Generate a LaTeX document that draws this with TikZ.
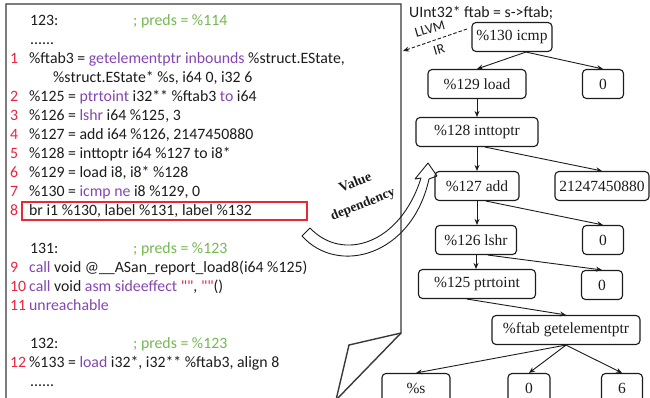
\documentclass[tikz,border=0pt]{standalone}
\usepackage{fontspec}
\setmainfont{Liberation Serif}
\newfontfamily\codefont{Carlito}
\usetikzlibrary{arrows.meta,calc}
\definecolor{ink}{RGB}{28,28,28}
\definecolor{kwpurple}{RGB}{132,70,176}
\definecolor{cmtgreen}{RGB}{116,184,82}
\definecolor{numred}{RGB}{232,36,64}
\definecolor{boxred}{RGB}{232,40,52}
\newcommand\kw[1]{\textcolor{kwpurple}{#1}}
\newcommand\cmnt[1]{\textcolor{cmtgreen}{#1}}
\newcommand\qred[1]{\textcolor{numred}{#1}}

\begin{document}
\begin{tikzpicture}[x=1pt,y=-1pt,
  code/.style={anchor=base west, inner sep=0pt, font=\codefont\fontsize{15.8}{19}\selectfont, text=ink},
  lno/.style={code, text=numred},
  tnode/.style={draw=ink, rounded corners=4pt, line width=1.1pt, inner sep=0pt,
    font=\fontsize{15.5}{18}\selectfont, text=ink, minimum height=29pt},
  edge/.style={draw=ink, line width=0.9pt, -{Stealth[length=6pt,width=5pt]}},
  frame/.style={draw=black!78, line width=1.4pt},
]
\useasboundingbox (0,0) rectangle (650,397);

% ---------- IR listing ----------
\node[code] (hdA) at (30,25) {123:};
\node[code] (hdAc) at (133,25) {\cmnt{; preds = \%114}};
\node[code] (dotsA) at (30,44) {......};
\node[lno] (n1) at (10,63) {1};
\node[code] (c1) at (29,63) {\%ftab3 = \kw{getelementptr inbounds} \%struct.EState,};
\node[code] (c1b) at (53,82) {\%struct.EState* \%s, i64 0, i32 6};
\node[lno] (n2) at (10,101) {2};
\node[code] (c2) at (29,101) {\%125 = \kw{ptrtoint} i32** \%ftab3 \kw{to} i64};
\node[lno] (n3) at (10,120) {3};
\node[code] (c3) at (29,120) {\%126 = \kw{lshr} i64 \%125, 3};
\node[lno] (n4) at (10,139) {4};
\node[code] (c4) at (29,139) {\%127 = add i64 \%126, 2147450880};
\node[lno] (n5) at (10,158) {5};
\node[code] (c5) at (29,158) {\%128 = inttoptr i64 \%127 to i8*};
\node[lno] (n6) at (10,177) {6};
\node[code] (c6) at (29,177) {\%129 = load i8, i8* \%128};
\node[lno] (n7) at (10,196) {7};
\node[code] (c7) at (29,196) {\%130 = \kw{icmp ne} i8 \%129, 0};
\node[lno] (n8) at (10,215) {8};
\node[code] (c8) at (29,215) {br i1 \%130, label \%131, label \%132};
\draw[draw=boxred, line width=1.2pt] (22,202) rectangle (307,220);

\node[code] (hdB) at (30,253) {131:};
\node[code] (hdBc) at (133,253) {\cmnt{; preds = \%123}};
\node[lno] (n9) at (10,272) {9};
\node[code] (c9) at (29,272) {\kw{call} void @\_\_ASan\_report\_load8(i64 \%125)};
\node[lno] (n10) at (10,291) {10};
\node[code] (c10) at (29,291) {\kw{call} void \kw{asm sideeffect} \qred{""}, \qred{""}()};
\node[lno] (n11) at (10,310) {11};
\node[code] (c11) at (29,310) {\kw{unreachable}};

\node[code] (hdC) at (30,348) {132:};
\node[code] (hdCc) at (133,348) {\cmnt{; preds = \%123}};
\node[lno] (n12) at (10,367) {12};
\node[code] (c12) at (29,367) {\%133 = \kw{load} i32*, i32** \%ftab3, align 8};
\node[code] (dotsC) at (30,386) {......};

% ---------- callout frame ----------
\draw[frame] (6,400) -- (6,4) -- (401,4) -- (401,333) -- (349,345) -- (336,400);
\draw[frame] (401,333) -- (336,400);

% ---------- source line and IR pointer ----------
\node[code] (src) at (409,17) {UInt32* ftab = s->ftab;};
\coordinate (irTail) at (467,29);
\coordinate (irHit) at (403,51);
\draw[draw=ink, line width=0.9pt, dashed, dash pattern=on 3.5pt off 2pt,
  -{Stealth[length=6pt,width=5pt]}] (irTail) -- (irHit);
\node[inner sep=0pt, rotate=16, text=ink, font=\codefont\fontsize{14}{14}\selectfont] (llvm) at (430,29) {LLVM};
\node[inner sep=0pt, rotate=16, text=ink, font=\codefont\fontsize{14}{14}\selectfont] (ir) at (439,50) {IR};

% ---------- dependency tree ----------
\node[tnode, minimum width=80pt]  (icmp) at (512,37)  {\%130 icmp};
\node[tnode, minimum width=98pt]  (load) at (477,84)  {\%129 load};
\node[tnode, minimum width=41pt]  (zA)   at (603,84)  {0};
\node[tnode, minimum width=122pt] (itp)  at (477,132) {\%128 inttoptr};
\node[tnode, minimum width=84pt]  (add)  at (477,186) {\%127 add};
\node[tnode, minimum width=94pt]  (big)  at (602,186) {21247450880};
\node[tnode, minimum width=81pt]  (lshr) at (476,240) {\%126 lshr};
\node[tnode, minimum width=41pt]  (zB)   at (603,240) {0};
\node[tnode, minimum width=117pt] (pti)  at (477,284) {\%125 ptrtoint};
\node[tnode, minimum width=41pt]  (zC)   at (602,285) {0};
\node[tnode, minimum width=148pt] (gep)  at (566,330) {\%ftab getelementptr};
\node[tnode, minimum width=68pt]  (sv)   at (416,388) {\%s};
\node[tnode, minimum width=42pt]  (zD)   at (529,388) {0};
\node[tnode, minimum width=41pt]  (six)  at (622,388) {6};

\draw[edge] ($(icmp.south)+(14,0)$) -- (load.north);
\draw[edge] ($(icmp.south)+(14,0)$) -- (zA.north);
\draw[edge] (load.south) -- (itp.north);
\draw[edge] (itp.south) -- (add.north);
\draw[edge] ($(itp.south)+(8,0)$) -- (big.north);
\draw[edge] (add.south) -- ($(lshr.north)+(1,0)$);
\draw[edge] ($(add.south)+(9,0)$) -- (zB.north);
\draw[edge] (lshr.south) -- ($(pti.north)+(-1,0)$);
\draw[edge] ($(lshr.south)+(12,0)$) -- (zC.north);
\draw[edge] ($(pti.south)+(-10,0)$) -- (gep.north);
\draw[edge] (gep.south) -- (sv.north);
\draw[edge] (gep.south) -- (zD.north);
\draw[edge] (gep.south) -- (six.north);

% ---------- value dependency arrow ----------
\draw[draw=ink, line width=0.9pt, line join=round]
  (310,228) .. controls (342,262) and (400,245) .. (421,178)
  -- (415,179) -- (428,163) -- (437,176) -- (429,179)
  .. controls (412,256) and (338,276) .. (302,236) -- cycle;
\node[inner sep=0pt, rotate=22, text=ink, font=\bfseries\fontsize{14}{14}\selectfont] (vdA) at (355,182) {Value};
\node[inner sep=0pt, rotate=22, text=ink, font=\bfseries\fontsize{13.5}{14}\selectfont] (vdB) at (363,205) {dependency};
\end{tikzpicture}
\end{document}
